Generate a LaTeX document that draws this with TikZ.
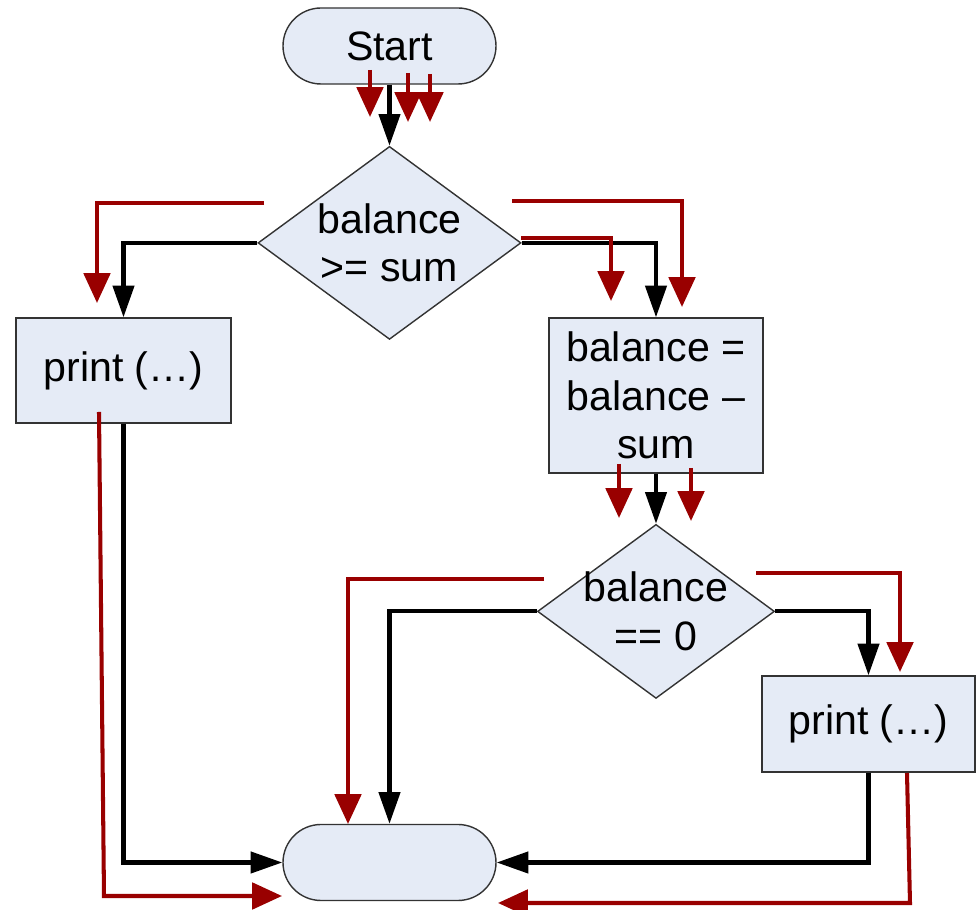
\documentclass[tikz,border=0pt]{standalone}
\usepackage{fontspec}
\setmainfont{Liberation Sans}
\usetikzlibrary{positioning,shapes.geometric,arrows.meta}

\definecolor{boxfill}{RGB}{229,235,246}
\definecolor{trace}{RGB}{153,0,0}

\tikzset{
    base/.style={draw=black!80,line width=0.4pt,fill=boxfill,align=center,
                 font=\fontsize{11.7}{13.8}\selectfont},
    term/.style={base,rectangle,rounded corners=3.8mm,minimum width=2.13cm,minimum height=0.76cm},
    stmt/.style={base,rectangle,inner sep=0pt},
    test/.style={base,diamond,inner sep=0pt},
    testtext/.style={align=center,font=\fontsize{11.7}{13.8}\selectfont},
    flow/.style={line width=1.15pt,-{Triangle[length=9pt,width=6pt]}},
    redflow/.style={trace,line width=1.15pt,-{Triangle[length=8.5pt,width=7.5pt]}}
}

\begin{document}
\begin{tikzpicture}
    \useasboundingbox (0,0) rectangle (9.78,-9.10);

    % the flowchart itself
    \node[term] (start) at (3.895,-0.46) {Start};
    \node[test,minimum width=2.63cm,minimum height=1.93cm,
          label={[testtext]center:balance\\>= sum}] (dec1) [below=0.61cm of start] {};
    \node[stmt,minimum width=2.15cm,minimum height=1.05cm] (lprint) at (1.235,-3.705) {print (…)};
    \node[stmt,minimum width=2.14cm,minimum height=1.55cm] (upd) at (6.56,-3.955)
        {balance =\\balance –\\sum};
    \node[test,minimum width=2.37cm,minimum height=1.74cm,
          label={[testtext]center:balance\\== 0}] (dec2) [below=0.5cm of upd] {};
    \node[stmt,minimum width=2.13cm,minimum height=0.96cm] (rprint) at (8.685,-7.24) {print (…)};
    \node[term] (stop) at (3.895,-8.625) {};

    \path[flow] (start) edge (dec1)
                (upd)   edge (dec2);
    \draw[flow] (dec1.west) -| (lprint.north);
    \draw[flow] (dec1.east) -| (upd.north);
    \draw[flow] (dec2.west) -| (stop.north);
    \draw[flow] (dec2.east) -| (rprint.north);
    \draw[flow] (lprint.south) |- (stop.west);
    \draw[flow] (rprint.south) |- (stop.east);

    % red traces drawn over it
    \coordinate (s1) at (3.70,-0.70);  \coordinate (t1) at (3.70,-1.17);
    \coordinate (s2) at (4.08,-0.73);  \coordinate (t2) at (4.08,-1.22);
    \coordinate (s3) at (4.30,-0.74);  \coordinate (t3) at (4.30,-1.22);
    \coordinate (l1) at (2.64,-2.03);  \coordinate (l2) at (0.97,-3.03);
    \coordinate (r1) at (5.21,-2.38);  \coordinate (r2) at (6.11,-3.01);
    \coordinate (q1) at (5.12,-2.01);  \coordinate (q2) at (6.82,-3.07);
    \coordinate (m1) at (6.19,-4.64);  \coordinate (m2) at (6.19,-5.18);
    \coordinate (n1) at (6.91,-4.68);  \coordinate (n2) at (6.91,-5.21);
    \coordinate (u1) at (5.44,-5.79);  \coordinate (u2) at (3.48,-8.24);
    \coordinate (v1) at (7.56,-5.73);  \coordinate (v2) at (9.00,-6.72);
    \coordinate (w1) at (0.99,-4.12);  \coordinate (w2) at (1.04,-8.96);
    \coordinate (w3) at (2.82,-8.96);
    \coordinate (z1) at (9.07,-7.73);  \coordinate (z2) at (9.10,-9.03);
    \coordinate (z3) at (4.98,-9.03);

    \path[redflow] (s1) edge (t1)
                   (s2) edge (t2)
                   (s3) edge (t3)
                   (m1) edge (m2)
                   (n1) edge (n2);
    \draw[redflow] (l1) -| (l2);
    \draw[redflow] (r1) -| (r2);
    \draw[redflow] (q1) -| (q2);
    \draw[redflow] (u1) -| (u2);
    \draw[redflow] (v1) -| (v2);
    \draw[redflow] (w1) -- (w2) -- (w3);
    \draw[redflow] (z1) -- (z2) -- (z3);
\end{tikzpicture}
\end{document}
